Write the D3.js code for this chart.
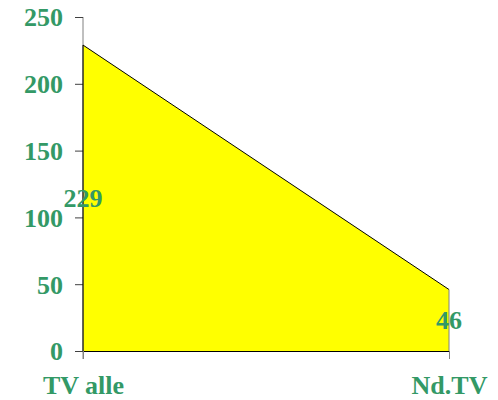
<!DOCTYPE html>
<html><head><meta charset="utf-8">
<script src="https://cdn.jsdelivr.net/npm/d3@7"></script>
<style>html,body{margin:0;padding:0;background:#fff;}svg{display:block;}</style>
</head><body>
<svg id="chart" width="498" height="400"></svg>
<script>
const categories = ["TV alle", "Nd.TV"];
const values = [229, 46];
const yTicks = [0, 50, 100, 150, 200, 250];

const green = "#339966";
const font = "'Liberation Serif', 'Times New Roman', serif";
const svg = d3.select("#chart");

const x = d3.scalePoint().domain(categories).range([83, 449]);
const y = d3.scaleLinear().domain([0, 250]).range([351, 17]);

const data = categories.map((c, i) => ({c, v: values[i]}));

// area
svg.append("path")
  .datum(data)
  .attr("fill", "#ffff00")
  .attr("d", d3.area().x(d => x(d.c)).y0(y(0)).y1(d => y(d.v)));

// y axis
const yAxis = svg.append("g").attr("transform", `translate(${x(categories[0])},0)`)
  .call(d3.axisLeft(y).tickValues(yTicks).tickSize(8).tickPadding(12).tickSizeOuter(0));
yAxis.select(".domain").attr("stroke", "#808080").attr("d", `M0,${y(250)}V${y(0)+8}`);
yAxis.selectAll(".tick line").attr("stroke", "#404040");
yAxis.selectAll(".tick text")
  .attr("fill", green).attr("font-family", font).attr("font-weight", "bold")
  .attr("font-size", 26).attr("dy", "0.34em");

// x axis
const xAxis = svg.append("g").attr("transform", `translate(0,${y(0)})`)
  .call(d3.axisBottom(x).tickSize(8).tickPadding(17).tickSizeOuter(0));
xAxis.select(".domain").attr("stroke", "#000");
xAxis.selectAll(".tick line").attr("stroke", "#808080");
xAxis.selectAll(".tick text")
  .attr("fill", green).attr("font-family", font).attr("font-weight", "bold")
  .attr("font-size", 26).attr("dy", "0.71em");

// area outline (left, top)
svg.append("path")
  .datum(data)
  .attr("fill", "none").attr("stroke", "#000").attr("stroke-width", 1)
  .attr("d", d3.line().x(d => x(d.c)).y(d => y(d.v)));
svg.append("line")
  .attr("x1", x(categories[0])).attr("x2", x(categories[0]))
  .attr("y1", y(0)).attr("y2", y(values[0]))
  .attr("stroke", "#000");
svg.append("line")
  .attr("x1", x(categories[1])).attr("x2", x(categories[1]))
  .attr("y1", y(0)).attr("y2", y(values[1]))
  .attr("stroke", "#808080");

// value labels
svg.selectAll(".val").data(data).join("text")
  .attr("class", "val")
  .attr("x", d => x(d.c)).attr("y", d => y(d.v / 2))
  .attr("dy", "0.34em").attr("text-anchor", "middle")
  .attr("fill", green).attr("font-family", font).attr("font-weight", "bold")
  .attr("font-size", 26)
  .text(d => d.v);
</script>
</body></html>
